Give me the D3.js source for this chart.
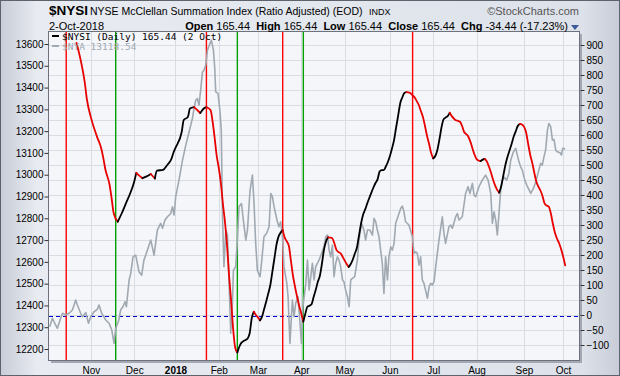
<!DOCTYPE html>
<html><head><meta charset="utf-8">
<script src="https://cdn.jsdelivr.net/npm/d3@7"></script>
<style>html,body{margin:0;padding:0;background:#fff}svg{display:block}</style>
</head><body><svg id="c" width="620" height="376"></svg>
<script>
// ---------- data (x = trading days since 4-Oct-2017) ----------
const symbol = "$NYSI";
const title = "NYSE McClellan Summation Index (Ratio Adjusted) (EOD)";
const exch = "INDX";
const dateLabel = "2-Oct-2018";
const quote = [["Open","165.44"],["High","165.44"],["Low","165.44"],["Close","165.44"],["Chg","-34.44 (-17.23%)"]];
const legend1 = "$NYSI (Daily) 165.44 (2 Oct)";
const legend2 = "$NYA 13118.54";
const monthTicks = [[20,"Nov"],[41,"Dec"],[61,"2018"],[82,"Feb"],[101,"Mar"],[122,"Apr"],[143,"May"],[165,"Jun"],[186,"Jul"],[207,"Aug"],[230,"Sep"],[249,"Oct"]];
const leftTicks = [12200,12300,12400,12500,12600,12700,12800,12900,13000,13100,13200,13300,13400,13500,13600];
const rightTicks = [-100,-50,0,50,100,150,200,250,300,350,400,450,500,550,600,650,700,750,800,850,900];
const redSignals = [8,76,113,176];
const greenSignals = [32,91,123];
const nysi = [[13,907],[15,850],[17,775],[18,720],[20,658],[23,593],[25,555],[26,523],[27,485],[29,435],[30,390],[31,340],[33,311],[35,340],[37,373],[39,405],[41,445],[42,474],[43,467],[45,456],[47,462],[49,470],[51,455],[52,481],[55,484],[57,500],[59,520],[60,541],[61,557],[64,610],[65,650],[67,660],[68,688],[70,693],[72,680],[73,673],[75,690],[76,693],[78,683],[79,645],[80,590],[81,530],[82,490],[83,440],[84,370],[85,310],[86,232],[87,130],[88,45],[89,-50],[90,-110],[91,-125],[92,-105],[93,-92],[94,-87],[95,-83],[96,-78],[97,-60],[98,-10],[99,11],[100,0],[101,-8],[102,-18],[103,-5],[104,20],[105,45],[106,72],[107,100],[108,145],[109,190],[110,235],[111,262],[112,275],[113,283],[114,258],[115,245],[116,230],[117,180],[118,130],[119,93],[120,60],[121,30],[122,5],[123,-22],[124,5],[125,28],[126,31],[127,36],[128,60],[129,83],[130,110],[131,130],[132,170],[133,217],[134,245],[135,259],[136,258],[137,256],[138,240],[139,218],[140,210],[141,206],[142,195],[143,182],[144,170],[145,160],[146,170],[147,185],[148,205],[149,225],[150,265],[151,305],[152,335],[153,352],[154,372],[155,390],[156,408],[157,425],[158,440],[159,452],[160,478],[161,483],[162,483],[163,495],[164,510],[165,530],[166,555],[167,583],[168,625],[169,665],[170,706],[171,725],[172,740],[173,743],[174,742],[175,739],[176,732],[177,725],[178,713],[179,700],[180,680],[181,660],[182,630],[183,597],[184,570],[185,540],[186,522],[187,530],[188,550],[189,585],[190,625],[191,652],[192,658],[193,663],[194,674],[195,663],[196,655],[197,649],[198,647],[199,644],[200,630],[201,610],[202,603],[203,595],[204,578],[205,556],[206,535],[207,520],[208,515],[209,513],[210,518],[211,520],[212,512],[213,495],[214,475],[215,452],[216,432],[217,417],[218,408],[219,430],[220,465],[221,500],[222,527],[223,548],[224,570],[225,594],[226,612],[227,630],[228,637],[229,635],[230,628],[231,610],[232,572],[233,535],[234,508],[235,475],[236,445],[237,428],[238,415],[239,397],[240,372],[241,365],[242,361],[243,340],[244,305],[245,275],[246,255],[247,240],[248,220],[249,195],[250,165.44]];
const nya = [[0,12302],[1.3,12341],[2.1,12325],[3.7,12295],[5.3,12341],[6.2,12364],[7.8,12356],[9.4,12364],[11,12379],[12.6,12425],[13.4,12402],[15,12364],[15.9,12348],[17.5,12367],[18.8,12318],[19.9,12348],[21.5,12371],[23.1,12382],[23.9,12402],[25.2,12364],[27.2,12333],[28.8,12318],[30.1,12287],[31.2,12226],[32,12295],[33.3,12325],[34.4,12379],[35.5,12394],[36.5,12417],[37.2,12394],[38.5,12517],[39.3,12547],[40.4,12623],[41.7,12631],[43.3,12555],[44.6,12539],[45.7,12608],[47.4,12654],[49,12700],[50.6,12631],[52.2,12746],[53.8,12777],[54.7,12754],[55.9,12792],[57.1,12807],[58.7,12822],[59.5,12853],[60.3,12815],[61.1,12899],[62.7,12975],[64.4,13067],[66,13136],[67.6,13197],[69.2,13258],[70,13304],[70.8,13342],[71.6,13350],[72.4,13319],[73.2,13388],[74.1,13472],[74.8,13480],[75.7,13503],[76.5,13572],[77.7,13602],[78.4,13617],[79.4,13572],[80,13495],[80.5,13380],[81.6,13373],[82.6,13289],[83.2,13205],[83.8,12807],[84.5,12578],[85.4,12746],[86.2,12723],[87,12501],[87.8,12272],[88.6,12410],[89.1,12562],[90.2,12578],[91,12700],[91.8,12853],[93,12868],[93.9,12792],[95.1,12700],[95.9,12746],[97.1,12922],[98.3,12998],[99.1,12868],[99.9,12685],[100.7,12562],[102,12532],[102.7,12593],[103.9,12715],[105.2,12731],[106.4,12761],[107.2,12914],[108,12899],[108.8,12853],[110.4,12784],[111.2,12761],[112,12784],[112.9,12715],[113.6,12578],[115,12501],[115.6,12440],[116.5,12226],[117.7,12425],[118.5,12348],[119.3,12410],[120.4,12440],[121.4,12318],[122.1,12226],[122.8,12394],[124.2,12501],[125,12608],[125.8,12471],[126.6,12532],[127.4,12593],[128.2,12517],[129,12578],[130.6,12608],[131.9,12639],[133,12669],[133.9,12715],[134.7,12723],[135.5,12654],[136.3,12623],[137.1,12677],[137.9,12532],[138.7,12593],[139.5,12623],[140.3,12608],[141.1,12578],[142,12517],[142.7,12509],[143.5,12471],[144.4,12440],[145.2,12394],[146,12517],[146.8,12524],[147.9,12532],[149.2,12608],[150,12700],[151.2,12777],[152.4,12746],[153.2,12700],[154.1,12746],[155.3,12746],[156.5,12723],[157.3,12800],[158.1,12784],[158.9,12746],[159.7,12715],[160.5,12654],[161.3,12593],[162.1,12455],[162.9,12623],[163.8,12517],[164.5,12623],[165.4,12669],[166.2,12654],[167,12685],[167.8,12777],[169.4,12822],[170.2,12845],[171,12856],[171.8,12830],[172.6,12784],[174.2,12769],[175.9,12715],[176.7,12639],[177.5,12646],[178.3,12639],[179.1,12585],[179.9,12623],[180.7,12517],[181.5,12501],[183.2,12433],[184,12486],[184.8,12501],[185.6,12494],[186.4,12509],[187.2,12578],[188.8,12700],[190.4,12807],[191.2,12731],[192,12685],[193.6,12761],[194.5,12769],[195.3,12754],[196.9,12807],[197.7,12822],[198.5,12792],[200.1,12807],[201.7,12914],[202.9,12945],[203.8,12914],[205,12960],[205.8,12906],[206.6,12899],[208.2,12945],[209.8,12975],[211.4,12998],[212.6,12975],[213.9,12914],[214.7,12777],[215.5,12830],[216.3,12792],[217.1,12723],[217.9,12822],[218.7,12929],[219.5,12975],[220.3,12990],[221.6,12975],[222.7,13006],[223.6,13067],[224.9,13105],[226,13121],[226.8,13090],[227.6,13059],[228.4,13036],[229.2,13021],[230.4,12975],[231.7,12945],[233.3,12914],[234.6,12937],[235.7,12967],[236.8,13006],[238.1,13052],[238.9,13044],[239.7,13082],[240.5,13113],[241.4,13205],[242.1,13235],[243,13220],[243.8,13159],[244.6,13162],[245.4,13113],[246.2,13105],[247.5,13101],[248.2,13090],[248.8,13121],[250,13118.54]];

// ---------- layout ----------
const W = 620, H = 376;
const P = {l:49, r:579, t:32, b:360};
const FONT = "'Liberation Sans', Arial, sans-serif";
const svg = d3.select("#c");

const x = d3.scaleLinear().domain([-0.35, 256.7]).range([P.l, P.r]);
const yL = d3.scaleLinear().domain([12200, 13600]).range([349, 44]);
const yR = d3.scaleLinear().domain([-100, 900]).range([345, 45]);

// background
const defs = svg.append("defs");
const g1 = defs.append("linearGradient").attr("id","bg").attr("x1","0").attr("x2","1").attr("y1","0").attr("y2","0");
g1.append("stop").attr("offset","0%").attr("stop-color","#c7ccd7");
g1.append("stop").attr("offset","6%").attr("stop-color","#e8ebf1");
g1.append("stop").attr("offset","50%").attr("stop-color","#e3e7ee");
g1.append("stop").attr("offset","94%").attr("stop-color","#dde1e9");
g1.append("stop").attr("offset","100%").attr("stop-color","#c7ccd7");
svg.append("rect").attr("width",W).attr("height",H).attr("fill","url(#bg)");
svg.append("rect").attr("x",0.5).attr("y",0.5).attr("width",W-1).attr("height",H-1).attr("fill","none").attr("stroke","#5d626c");
defs.append("clipPath").attr("id","clip").append("rect").attr("x",P.l).attr("y",P.t).attr("width",P.r-P.l).attr("height",P.b-P.t);

// plot shadow + area
svg.append("rect").attr("x",P.l+2).attr("y",P.t+2).attr("width",P.r-P.l+1).attr("height",P.b-P.t+1).attr("fill","#a3a8b2");
svg.append("rect").attr("x",P.l).attr("y",P.t).attr("width",P.r-P.l).attr("height",P.b-P.t).attr("fill","#f5f6fa");

// grid
const grid = svg.append("g").attr("clip-path","url(#clip)");
grid.selectAll(".hg").data(rightTicks).join("line")
  .attr("x1",P.l).attr("x2",P.r).attr("y1",d=>Math.round(yR(d))+0.5).attr("y2",d=>Math.round(yR(d))+0.5)
  .attr("stroke","#d9dce3").attr("stroke-width",1);
grid.selectAll(".vg").data(monthTicks).join("line")
  .attr("x1",d=>Math.round(x(d[0]))+0.5).attr("x2",d=>Math.round(x(d[0]))+0.5).attr("y1",P.t).attr("y2",P.b)
  .attr("stroke","#d9dce3").attr("stroke-width",1);

// zero dashed line
grid.append("line").attr("x1",P.l).attr("x2",P.r).attr("y1",Math.round(yR(0))+1.5).attr("y2",Math.round(yR(0))+1.5)
  .attr("stroke","#0000d0").attr("stroke-width",1.2).attr("stroke-dasharray","4,3");

// signal lines
grid.selectAll(".rs").data(redSignals).join("line")
  .attr("x1",d=>x(d)).attr("x2",d=>x(d)).attr("y1",P.t).attr("y2",P.b)
  .attr("stroke","#ff0000").attr("stroke-width",1.4);
grid.selectAll(".gs").data(greenSignals).join("line")
  .attr("x1",d=>x(d)).attr("x2",d=>x(d)).attr("y1",P.t).attr("y2",P.b)
  .attr("stroke","#00a000").attr("stroke-width",1.4);

// NYA line
const lineL = d3.line().x(d=>x(d[0])).y(d=>yL(d[1]));
grid.append("path").datum(nya).attr("d",lineL).attr("fill","none")
  .attr("stroke","#a0a9b1").attr("stroke-width",1.6).attr("stroke-linejoin","round");

// NYSI line coloured by direction
const lineR = d3.line().x(d=>x(d[0])).y(d=>yR(d[1])).curve(d3.curveMonotoneX);
const runs = [];
for (let i=1;i<nysi.length;i++){
  const up = nysi[i][1] >= nysi[i-1][1];
  const last = runs[runs.length-1];
  if (last && last.up===up) last.pts.push(nysi[i]);
  else runs.push({up, pts:[nysi[i-1], nysi[i]]});
}
grid.selectAll(".run").data(runs).join("path")
  .attr("d",d=>lineR(d.pts)).attr("fill","none")
  .attr("stroke",d=>d.up?"#000000":"#e80000").attr("stroke-width",1.8)
  .attr("stroke-linejoin","round").attr("stroke-linecap","round");

// frame
svg.append("rect").attr("x",P.l-0.5).attr("y",P.t-0.5).attr("width",P.r-P.l+1).attr("height",P.b-P.t+1)
  .attr("fill","none").attr("stroke","#6d727c");

// axes
const axL = svg.append("g").attr("transform",`translate(${P.l-0.5},0)`)
  .call(d3.axisLeft(yL).tickValues(leftTicks).tickSize(4).tickPadding(1).tickFormat(d3.format("d")));
const axR = svg.append("g").attr("transform",`translate(${P.r+1.5},0)`)
  .call(d3.axisRight(yR).tickValues(rightTicks).tickSize(4).tickPadding(2).tickFormat(d3.format("d")));
const axB = svg.append("g").attr("transform",`translate(0,${P.b})`)
  .call(d3.axisBottom(x).tickValues(monthTicks.map(d=>d[0])).tickSize(0).tickPadding(7)
    .tickFormat((d,i)=>monthTicks[i][1]));
[axL,axR,axB].forEach(a=>{
  a.select(".domain").remove();
  a.selectAll("text").attr("font-family",FONT).attr("font-size",10).attr("fill","#000");
  a.selectAll("line").attr("stroke","#333");
});
axB.selectAll("text").attr("font-weight",(d,i)=>monthTicks[i][1]==="2018"?"bold":"normal");

// header
const hdr = svg.append("g").attr("font-family",FONT);
hdr.append("text").attr("x",49).attr("y",15).attr("font-size",13.5).attr("font-weight","bold").text(symbol);
hdr.append("text").attr("x",90).attr("y",14.5).attr("font-size",10.5).text(title);
hdr.append("text").attr("x",369).attr("y",14.5).attr("font-size",9).text(exch);
hdr.append("text").attr("x",579).attr("y",14.5).attr("font-size",11).attr("text-anchor","end").attr("fill","#555").text("\u00A9StockCharts.com");
hdr.append("text").attr("x",49).attr("y",30).attr("font-size",11).text(dateLabel);
const q = hdr.append("text").attr("x",568).attr("y",30).attr("font-size",11).attr("text-anchor","end");
quote.forEach((p,i)=>{
  q.append("tspan").attr("font-weight","bold").text((i?"  ":"")+p[0]+" ");
  q.append("tspan").text(p[1]);
});
q.attr("xml:space","preserve");
hdr.append("path").attr("d","M571,25 L579,25 L575,30 Z").attr("fill","#3d5a99");

// legend
const lg = svg.append("g").attr("font-family","'DejaVu Sans Mono', monospace").attr("font-size",9.5);
lg.append("line").attr("x1",52).attr("x2",59).attr("y1",36).attr("y2",36).attr("stroke","#000").attr("stroke-width",2);
lg.append("text").attr("x",62).attr("y",39.5).attr("fill","#000").text(legend1);
lg.append("line").attr("x1",52).attr("x2",59).attr("y1",46).attr("y2",46).attr("stroke","#a0a9b1").attr("stroke-width",2);
lg.append("text").attr("x",62).attr("y",49.5).attr("fill","#a0a9b1").text(legend2);
</script></body></html>
